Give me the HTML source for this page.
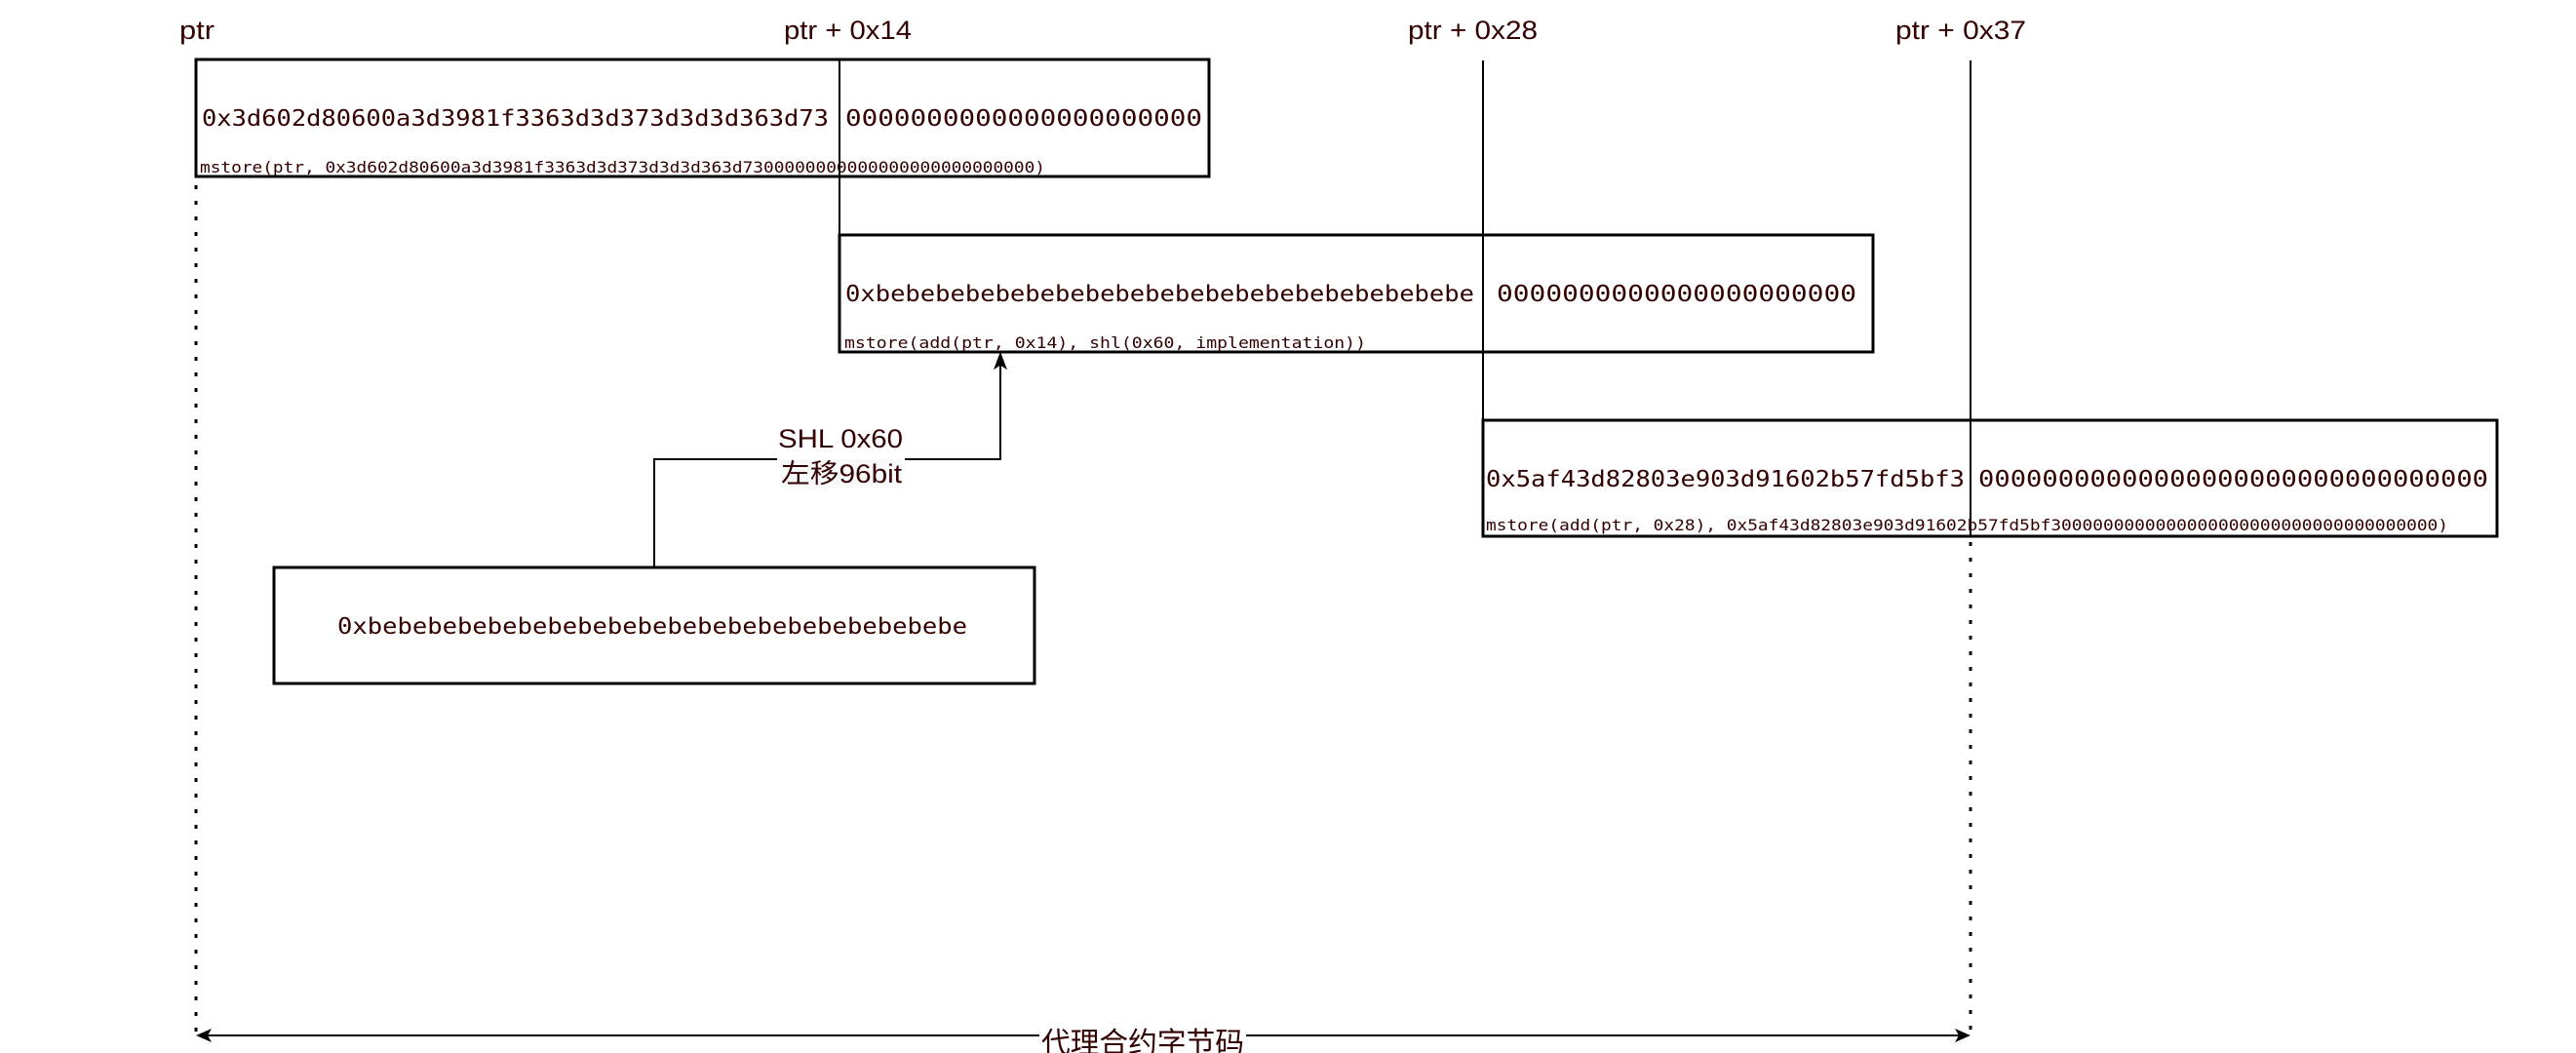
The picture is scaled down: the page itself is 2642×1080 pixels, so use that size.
<!DOCTYPE html>
<html><head><meta charset="utf-8"><style>
html,body{margin:0;padding:0;background:#fff;}
svg{display:block;}
.m{font-family:"DejaVu Sans Mono","Liberation Mono",monospace;fill:#330000;}
.s{font-family:"Liberation Sans","Noto Sans CJK SC",sans-serif;fill:#330000;}
</style></head><body>
<svg width="2642" height="1080" viewBox="0 0 2642 1080" xmlns="http://www.w3.org/2000/svg">
<text class="s" x="184" y="40" font-size="27" textLength="36" lengthAdjust="spacingAndGlyphs">ptr</text>
<text class="s" x="804" y="40" font-size="27" textLength="131" lengthAdjust="spacingAndGlyphs">ptr + 0x14</text>
<text class="s" x="1444" y="40" font-size="27" textLength="133" lengthAdjust="spacingAndGlyphs">ptr + 0x28</text>
<text class="s" x="1944" y="40" font-size="27" textLength="134" lengthAdjust="spacingAndGlyphs">ptr + 0x37</text>

<line x1="861" y1="62" x2="861" y2="241" stroke="#000" stroke-width="2"/>
<line x1="1521" y1="62" x2="1521" y2="431" stroke="#000" stroke-width="2"/>
<line x1="2021" y1="62" x2="2021" y2="550" stroke="#000" stroke-width="2"/>
<line x1="201" y1="62" x2="201" y2="1060" stroke="#000" stroke-width="3" stroke-dasharray="4 12"/>
<line x1="2021" y1="556" x2="2021" y2="1060" stroke="#000" stroke-width="3" stroke-dasharray="4 12"/>

<rect x="201" y="61" width="1039" height="120" fill="none" stroke="#000" stroke-width="3"/>
<text class="m" x="207" y="129" font-size="23" textLength="643" lengthAdjust="spacingAndGlyphs">0x3d602d80600a3d3981f3363d3d373d3d3d363d73</text>
<text class="m" x="867" y="129" font-size="23" textLength="366" lengthAdjust="spacingAndGlyphs">0000000000000000000000</text>
<text class="m" x="205" y="177" font-size="16" textLength="867" lengthAdjust="spacingAndGlyphs">mstore(ptr, 0x3d602d80600a3d3981f3363d3d373d3d3d363d7300000000000000000000000000)</text>

<rect x="861" y="241" width="1060" height="120" fill="none" stroke="#000" stroke-width="3"/>
<text class="m" x="867" y="309" font-size="23" textLength="645" lengthAdjust="spacingAndGlyphs">0xbebebebebebebebebebebebebebebebebebebebe</text>
<text class="m" x="1535" y="309" font-size="23" textLength="369" lengthAdjust="spacingAndGlyphs">0000000000000000000000</text>
<text class="m" x="866" y="357" font-size="16" textLength="535" lengthAdjust="spacingAndGlyphs">mstore(add(ptr, 0x14), shl(0x60, implementation))</text>

<rect x="1521" y="431" width="1040" height="119" fill="none" stroke="#000" stroke-width="3"/>
<text class="m" x="1524" y="499" font-size="23" textLength="491" lengthAdjust="spacingAndGlyphs">0x5af43d82803e903d91602b57fd5bf3</text>
<text class="m" x="2029" y="499" font-size="23" textLength="523" lengthAdjust="spacingAndGlyphs">00000000000000000000000000000000</text>
<text class="m" x="1524" y="544" font-size="16" textLength="987" lengthAdjust="spacingAndGlyphs">mstore(add(ptr, 0x28), 0x5af43d82803e903d91602b57fd5bf3000000000000000000000000000000000000)</text>

<rect x="281" y="582" width="780" height="119" fill="none" stroke="#000" stroke-width="3"/>
<text class="m" x="346" y="650" font-size="23" textLength="646" lengthAdjust="spacingAndGlyphs">0xbebebebebebebebebebebebebebebebebebebebe</text>

<polyline points="671,582 671,471 1026,471 1026,372" fill="none" stroke="#000" stroke-width="2"/>
<polygon points="1026,362 1020,378 1026,374 1032,378" fill="#000" stroke="#000" stroke-width="1"/>
<rect x="797" y="436" width="131" height="66" fill="#fff"/>
<rect x="800" y="471" width="125" height="30" fill="#f8f9fa"/>
<text class="s" x="798" y="459" font-size="27" textLength="128" lengthAdjust="spacingAndGlyphs">SHL 0x60</text>
<text class="s" x="801" y="495" font-size="27" textLength="124" lengthAdjust="spacingAndGlyphs">左移96bit</text>

<line x1="210" y1="1062" x2="2012" y2="1062" stroke="#000" stroke-width="2"/>
<polygon points="201,1062 217,1055 213,1062 217,1069" fill="#000"/>
<polygon points="2021,1062 2005,1055 2009,1062 2005,1069" fill="#000"/>
<rect x="1066" y="1046" width="212" height="34" fill="#fff"/>
<text class="s" x="1068" y="1080" font-size="30" textLength="208" lengthAdjust="spacingAndGlyphs">代理合约字节码</text>
</svg>
</body></html>
